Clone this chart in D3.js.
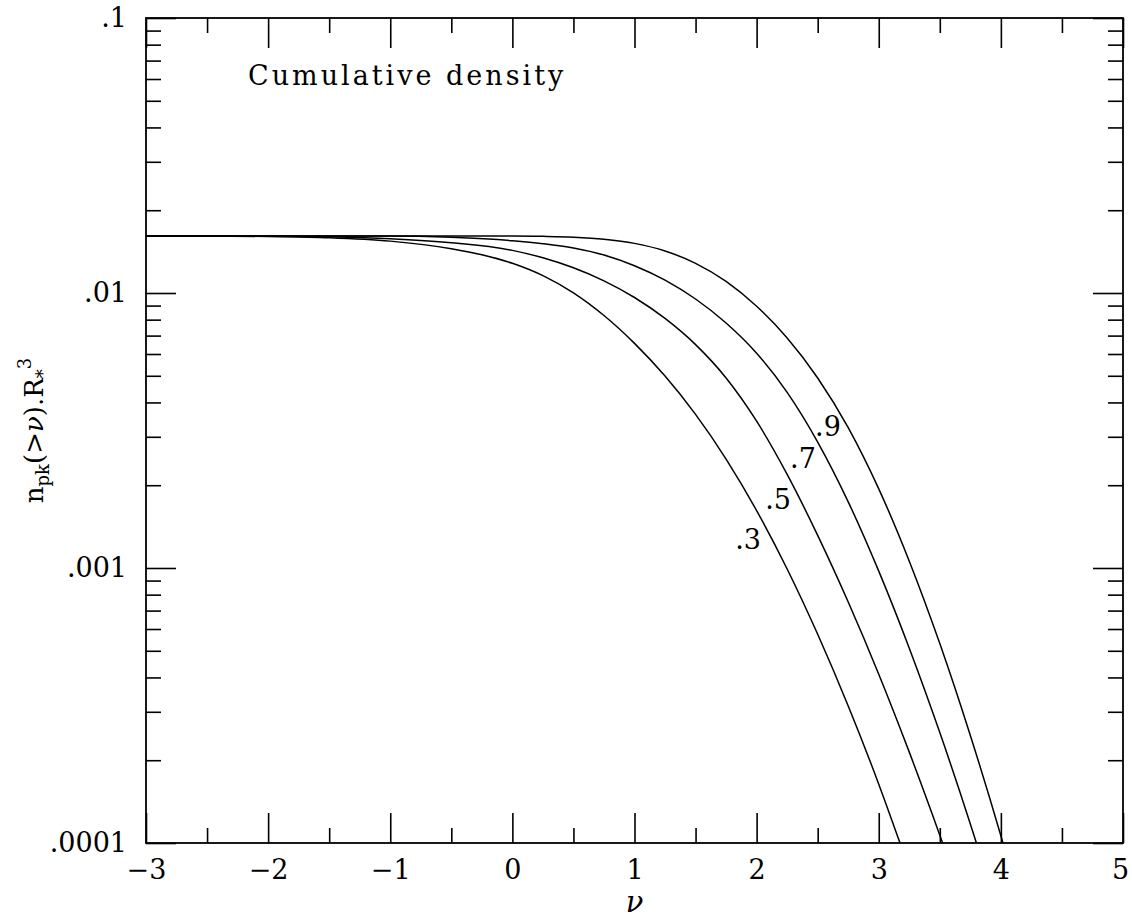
<!DOCTYPE html>
<html>
<head>
<meta charset="utf-8">
<script src="https://cdn.jsdelivr.net/npm/d3@7"></script>
<style>
  html, body { margin: 0; padding: 0; background: #fff; }
  svg { display: block; }
  text { font-family: "DejaVu Serif", "Liberation Serif", serif; fill: #000; }
</style>
</head>
<body>
<svg id="chart" width="1132" height="918"></svg>
<script>
// Cumulative peak density n_pk(>nu) R*^3 for four values of gamma.
const gammaLabels = [".3", ".5", ".7", ".9"];

const nu30 = [-3, -2.5, -2, -1.5, -1, -0.5, -0.25, 0, 0.25, 0.5, 0.75, 1, 1.25, 1.5, 1.75, 2, 2.25, 2.5, 2.75, 3, 3.174];
const n30  = [0.01612, 0.01612, 0.01605, 0.01589, 0.01544, 0.01449, 0.01378, 0.01282, 0.01156, 0.01001, 0.00828, 0.00656, 0.00499, 0.00362, 0.00249, 0.001618, 0.000992, 0.000574, 0.000315, 0.0001637, 0.0001];

const nu50 = [-3, -2, -1.5, -1, -0.5, 0, 0.25, 0.5, 0.75, 1, 1.25, 1.5, 1.75, 2, 2.25, 2.5, 2.75, 3, 3.25, 3.5, 3.523];
const n50  = [0.01612, 0.01612, 0.01602, 0.01576, 0.01523, 0.01429, 0.01343, 0.01235, 0.01107, 0.00963, 0.00808, 0.00649, 0.00491, 0.00342, 0.00219, 0.001314, 0.000752, 0.000411, 0.000214, 0.0001068, 0.0001];

const nu70 = [-3, -1, -0.5, 0, 0.25, 0.5, 0.75, 1, 1.25, 1.5, 1.75, 2, 2.25, 2.5, 2.75, 3, 3.25, 3.5, 3.75, 3.8];
const n70  = [0.01612, 0.01612, 0.01594, 0.01549, 0.01511, 0.01458, 0.01375, 0.01257, 0.01114, 0.00951, 0.00778, 0.00604, 0.00435, 0.00287, 0.00174, 0.000974, 0.000511, 0.000252, 0.0001173, 0.0001];

const nu90 = [-3, 0, 0.25, 0.5, 0.75, 1, 1.25, 1.5, 1.75, 2, 2.25, 2.5, 2.75, 3, 3.25, 3.5, 3.75, 4, 4.017];
const n90  = [0.01612, 0.01612, 0.01607, 0.01596, 0.01569, 0.01515, 0.01422, 0.01282, 0.01102, 0.00895, 0.00686, 0.00491, 0.00324, 0.00194, 0.001059, 0.000531, 0.000246, 0.0001062, 0.0001];

// Where each gamma label sits (nu, density at its baseline)
const labelNu  = [1.824, 2.07, 2.274, 2.479];
const labelN   = [0.00117, 0.00164, 0.00231, 0.00302];

// Axis ticks
const xMajor = [-3, -2, -1, 0, 1, 2, 3, 4, 5];
const xTickLabels = ["\u22123", "\u22122", "\u22121", "0", "1", "2", "3", "4", "5"];
const xMinor = [-2.5, -1.5, -0.5, 0.5, 1.5, 2.5, 3.5, 4.5];
const yMajor = [0.0001, 0.001, 0.01, 0.1];
const yTickLabels = [".0001", ".001", ".01", ".1"];
const yMinor = [];
[0.0001, 0.001, 0.01].forEach(d => { for (let k = 2; k <= 9; k++) yMinor.push(+(d * k).toPrecision(3)); });

const series = [
  {nu: nu30, n: n30},
  {nu: nu50, n: n50},
  {nu: nu70, n: n70},
  {nu: nu90, n: n90}
];

const plotLeft = 146, plotRight = 1123, plotTop = 18, plotBottom = 843;

const svg = d3.select("#chart");
const x = d3.scaleLinear().domain([-3, 5]).range([plotLeft, plotRight]);
const y = d3.scaleLog().domain([1e-4, 0.1]).range([plotBottom, plotTop]);

const fontSize = 27;
const majorLen = 30, minorLen = 15;

function styleAxis(g) {
  g.select(".domain").remove();
  g.selectAll(".tick line").attr("stroke", "#000").attr("stroke-width", 1.6);
  g.selectAll(".tick text").attr("font-family", "DejaVu Serif, serif").attr("font-size", fontSize).attr("fill", "#000");
}

// Bottom axis: inward ticks, labels below
svg.append("g").attr("transform", `translate(0,${plotBottom})`)
  .call(d3.axisBottom(x).tickValues(xMajor).tickSize(-majorLen).tickPadding(17)
    .tickFormat((d, i) => xTickLabels[i]))
  .call(styleAxis)
  .call(g => g.selectAll(".tick text").filter(d => d === 5).attr("dx", -3));
svg.append("g").attr("transform", `translate(0,${plotBottom})`)
  .call(d3.axisBottom(x).tickValues(xMinor).tickSize(-minorLen).tickFormat(""))
  .call(styleAxis);

// Top axis: inward ticks, no labels
svg.append("g").attr("transform", `translate(0,${plotTop})`)
  .call(d3.axisTop(x).tickValues(xMajor).tickSize(-majorLen).tickFormat(""))
  .call(styleAxis);
svg.append("g").attr("transform", `translate(0,${plotTop})`)
  .call(d3.axisTop(x).tickValues(xMinor).tickSize(-minorLen).tickFormat(""))
  .call(styleAxis);

// Left axis: inward ticks, labels on the left
svg.append("g").attr("transform", `translate(${plotLeft},0)`)
  .call(d3.axisLeft(y).tickValues(yMajor).tickSize(-majorLen).tickPadding(19)
    .tickFormat((d, i) => yTickLabels[i]))
  .call(styleAxis);
svg.append("g").attr("transform", `translate(${plotLeft},0)`)
  .call(d3.axisLeft(y).tickValues(yMinor).tickSize(-minorLen).tickFormat(""))
  .call(styleAxis);

// Right axis: inward ticks
svg.append("g").attr("transform", `translate(${plotRight},0)`)
  .call(d3.axisRight(y).tickValues(yMajor).tickSize(-majorLen).tickFormat(""))
  .call(styleAxis);
svg.append("g").attr("transform", `translate(${plotRight},0)`)
  .call(d3.axisRight(y).tickValues(yMinor).tickSize(-minorLen).tickFormat(""))
  .call(styleAxis);

// Frame
svg.append("rect")
  .attr("x", plotLeft).attr("y", plotTop)
  .attr("width", plotRight - plotLeft).attr("height", plotBottom - plotTop)
  .attr("fill", "none").attr("stroke", "#000").attr("stroke-width", 1.8);

// Curves
svg.append("clipPath").attr("id", "plotClip")
  .append("rect").attr("x", plotLeft).attr("y", plotTop)
  .attr("width", plotRight - plotLeft).attr("height", plotBottom - plotTop);

const line = d3.line()
  .x(d => x(d[0]))
  .y(d => y(d[1]))
  .curve(d3.curveMonotoneX);

svg.append("g").attr("clip-path", "url(#plotClip)")
  .selectAll("path")
  .data(series)
  .join("path")
  .attr("d", s => line(d3.zip(s.nu, s.n)))
  .attr("fill", "none")
  .attr("stroke", "#000")
  .attr("stroke-width", 1.5);

// Gamma labels
svg.append("g").selectAll("text")
  .data(gammaLabels)
  .join("text")
  .attr("x", (d, i) => x(labelNu[i]))
  .attr("y", (d, i) => y(labelN[i]))
  .attr("font-size", fontSize)
  .text(d => d);

// Title inside the plot
svg.append("text")
  .attr("x", 248).attr("y", 85)
  .attr("font-size", fontSize)
  .attr("letter-spacing", 3)
  .text("Cumulative density");

// x-axis label
svg.append("text")
  .attr("x", (plotLeft + plotRight) / 2).attr("y", 912)
  .attr("text-anchor", "middle")
  .attr("font-size", 29)
  .attr("font-style", "italic")
  .text("\u03bd");

// y-axis label: n_pk(>nu).R_*^3
const yl = svg.append("text")
  .attr("transform", `translate(43,${(plotTop + plotBottom) / 2}) rotate(-90)`)
  .attr("text-anchor", "middle")
  .attr("font-size", 26);
yl.append("tspan").text("n");
yl.append("tspan").attr("font-size", 18).attr("dy", 6).text("pk");
yl.append("tspan").attr("dy", -6).text("(>");
yl.append("tspan").attr("font-style", "italic").text("\u03bd");
yl.append("tspan").text(").R");
yl.append("tspan").attr("font-size", 18).attr("dy", 6).text("*");
yl.append("tspan").attr("font-size", 18).attr("dy", -18).text("3");
</script>
</body>
</html>
